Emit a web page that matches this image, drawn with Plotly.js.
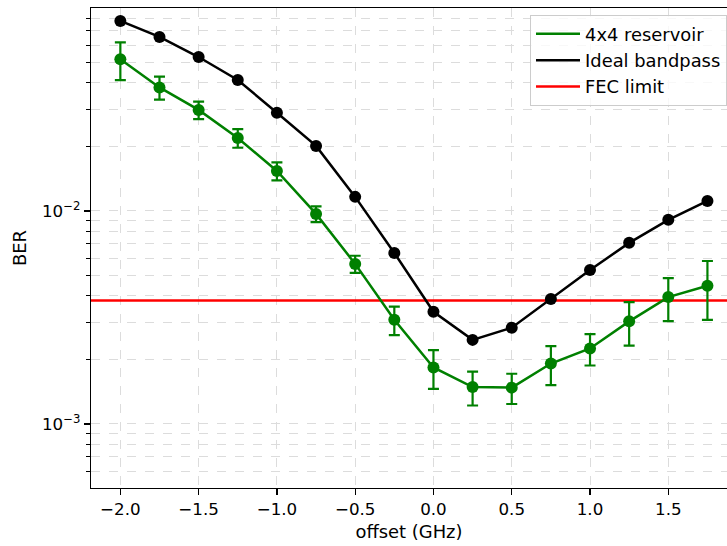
<!DOCTYPE html>
<html>
<head>
<meta charset="utf-8">
<script src="https://cdn.plot.ly/plotly-3.0.1.min.js"></script>
<style>html,body{margin:0;padding:0;background:#fff;}</style>
</head>
<body>
<div id="chart" style="width:727px;height:546px;"></div>
<script>
// ---- data ----
const offsets = [-2.0, -1.75, -1.5, -1.25, -1.0, -0.75, -0.5, -0.25, 0.0, 0.25, 0.5, 0.75, 1.0, 1.25, 1.5, 1.75];
const reservoirBER = [0.0515, 0.0380, 0.0298, 0.0220, 0.0154, 0.00968, 0.00564, 0.00308, 0.00184, 0.00149, 0.00148, 0.00192, 0.00226, 0.00303, 0.00394, 0.00445];
const reservoirErr = [0.0104, 0.0047, 0.0028, 0.0022, 0.0015, 0.00083, 0.00052, 0.00047, 0.00038, 0.00027, 0.00024, 0.00040, 0.00038, 0.00070, 0.00090, 0.00137];
const bandpassBER = [0.0780, 0.0656, 0.0528, 0.0412, 0.0289, 0.0202, 0.01164, 0.00635, 0.00336, 0.00248, 0.00283, 0.00386, 0.00528, 0.00708, 0.00908, 0.01114];
const fecLimit = 0.0038;
const xRange = [-2.1875, 1.875];
const yRange = [5.0e-4, 0.0897];
const xTickVals = [-2.0, -1.5, -1.0, -0.5, 0.0, 0.5, 1.0, 1.5];
const yTickVals = [0.001, 0.01];
const yTickText = ['10<sup>−3</sup>', '10<sup>−2</sup>'];
const yMinorVals = [6e-4, 7e-4, 8e-4, 9e-4, 2e-3, 3e-3, 4e-3, 5e-3, 6e-3, 7e-3, 8e-3, 9e-3, 2e-2, 3e-2, 4e-2, 5e-2, 6e-2, 7e-2, 8e-2];

const GREEN = '#008000', BLACK = '#000000', RED = '#ff0000';
const FONT = 'DejaVu Sans, sans-serif';
const TICK_FS = 16.7, LABEL_FS = 17.9;

const traces = [
  { x: xRange, y: [fecLimit, fecLimit], mode: 'lines', name: 'FEC limit',
    line: {color: RED, width: 2.5}, legendrank: 3 },
  { x: offsets, y: bandpassBER, mode: 'lines', name: 'Ideal bandpass',
    line: {color: BLACK, width: 2.5}, legendrank: 2 },
  { x: offsets, y: bandpassBER, mode: 'markers', showlegend: false,
    marker: {color: BLACK, size: 12} },
  { x: offsets, y: reservoirBER, mode: 'lines', name: '4x4 reservoir',
    line: {color: GREEN, width: 2.5}, legendrank: 1 },
  { x: offsets, y: reservoirBER, mode: 'markers', showlegend: false,
    marker: {color: GREEN, size: 12},
    error_y: {type: 'data', array: reservoirErr, visible: true, color: GREEN, thickness: 2.2, width: 5.5} }
];

const layout = {
  width: 727, height: 546,
  margin: {l: 91, r: 0, t: 8, b: 58},
  paper_bgcolor: '#fff', plot_bgcolor: '#fff',
  font: {family: FONT, size: TICK_FS, color: '#000'},
  showlegend: true,
  legend: {
    x: 1, xanchor: 'right', y: 0.986, yanchor: 'top',
    bgcolor: 'rgba(255,255,255,0.8)', bordercolor: '#cccccc', borderwidth: 1,
    font: {family: FONT, size: LABEL_FS, color: '#000'},
    traceorder: 'normal', tracegroupgap: 0, itemwidth: 44
  },
  xaxis: {
    range: xRange, tickvals: xTickVals, tickformat: '.1f',
    showline: true, linecolor: '#000', linewidth: 1.3, mirror: true,
    ticks: 'outside', ticklen: 6, tickwidth: 1.3, tickcolor: '#000',
    showgrid: true, gridcolor: '#dcdcdc', griddash: 'dash', gridwidth: 1,
    zeroline: false,
    tickfont: {family: FONT, size: TICK_FS},
    title: {text: 'offset (GHz)', font: {family: FONT, size: LABEL_FS}, standoff: 7}
  },
  yaxis: {
    type: 'log', range: yRange.map(Math.log10),
    tickvals: yTickVals, ticktext: yTickText,
    showline: true, linecolor: '#000', linewidth: 1.3, mirror: false,
    ticks: 'outside', ticklen: 6, tickwidth: 1.3, tickcolor: '#000',
    showgrid: true, gridcolor: '#dcdcdc', griddash: 'dash', gridwidth: 1,
    zeroline: false,
    tickfont: {family: FONT, size: TICK_FS},
    minor: {tickvals: yMinorVals, ticks: 'outside', ticklen: 3.5, tickwidth: 1, tickcolor: '#000',
            showgrid: true, gridcolor: '#dcdcdc', griddash: 'dash', gridwidth: 1},
    title: {text: 'BER', font: {family: FONT, size: LABEL_FS}, standoff: 10}
  }
};

Plotly.newPlot('chart', traces, layout, {displayModeBar: false, staticPlot: true});
</script>
</body>
</html>
